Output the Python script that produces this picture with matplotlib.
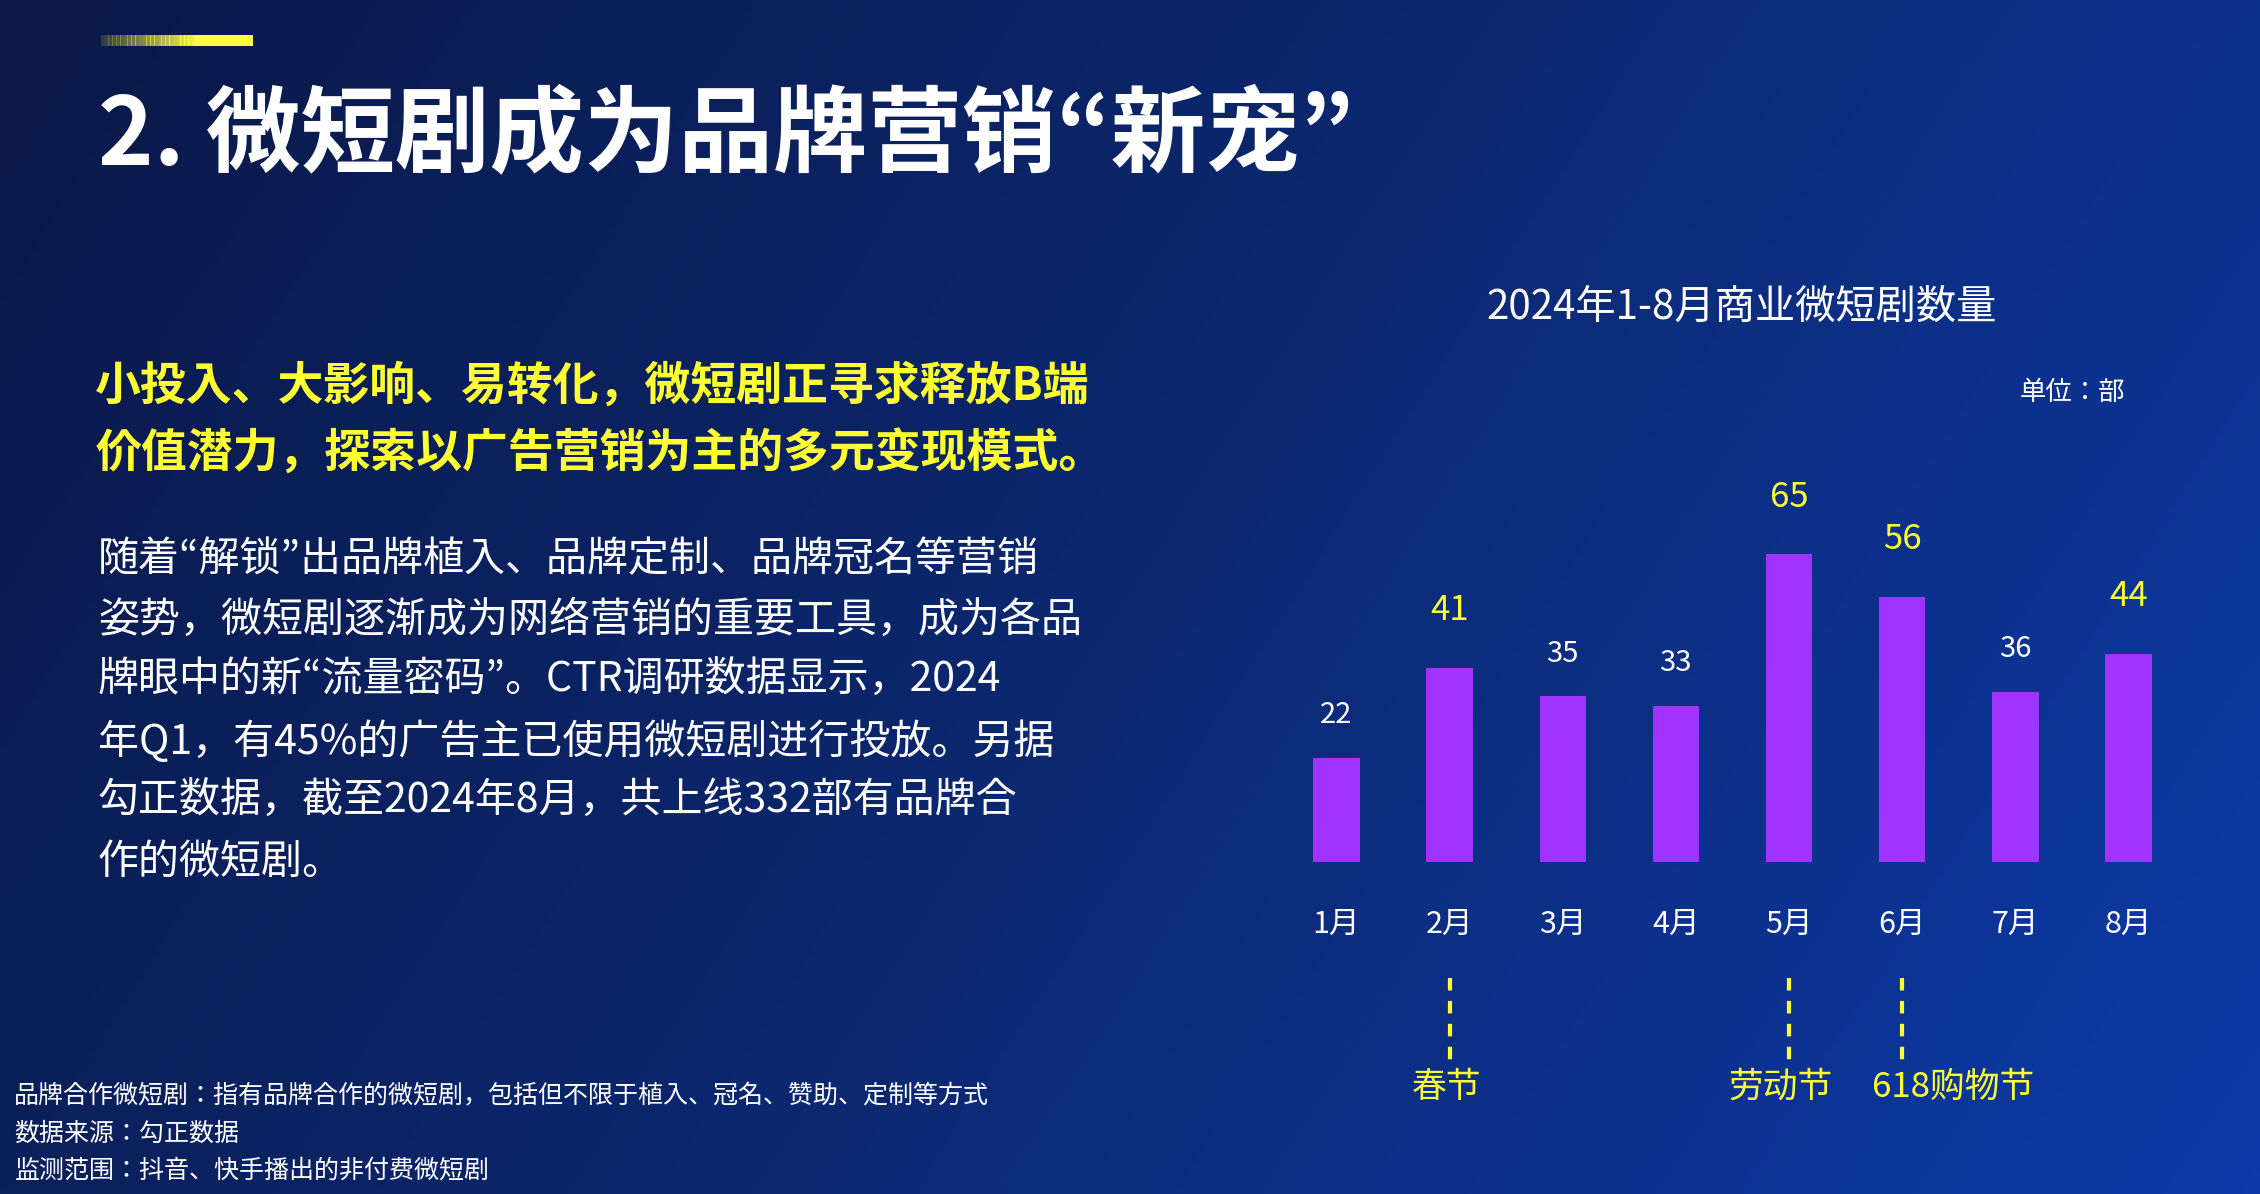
import matplotlib
matplotlib.use("Agg")
import matplotlib.pyplot as plt
import numpy as np
from matplotlib import font_manager
from matplotlib.colors import LinearSegmentedColormap

cjk = [f for f in font_manager.fontManager.ttflist if "CJK" in f.name]
names = sorted(set(f.name for f in cjk))
fam = next((n for n in names if "SC" in n), names[0] if names else "DejaVu Sans")
plt.rcParams["font.family"] = [fam, "DejaVu Sans"]

months = ["1月", "2月", "3月", "4月", "5月", "6月", "7月", "8月"]
counts = [22, 41, 35, 33, 65, 56, 36, 44]
highlight = [False, True, False, False, True, True, False, True]
events = {1: "春节", 4: "劳动节", 5: "618购物节"}
event_dx = {1: -0.03, 4: -0.08, 5: 0.45}

W, H = 1568, 828
fig = plt.figure(figsize=(22.6, 11.94), dpi=100)

# background gradient
bg = fig.add_axes([0, 0, 1, 1])
gx = np.linspace(0, 1, 300)
gy = np.linspace(0, 1, 200)
X, Y = np.meshgrid(gx, gy)
grad = 0.75 * X + 0.25 * (1 - Y)
cmap = LinearSegmentedColormap.from_list("bg", ["#0a1848", "#0c2870", "#0c3aa8"])
bg.imshow(grad, cmap=cmap, aspect="auto", extent=[0, 1, 0, 1], origin="lower")
bg.set_xlim(0, 1)
bg.set_ylim(0, 1)
bg.axis("off")

def fx(x):
    return x / W

def fy(y):
    return 1 - y / H

# yellow accent bar
for i in range(40):
    x0 = 70 + i * 105 / 40
    bg.add_patch(plt.Rectangle((fx(x0), fy(32)), fx(105 / 40 + 0.5), 8 / H,
                               color="#ffff40", alpha=min(1, 0.15 + i / 30), lw=0))

fig.text(fx(68), fy(95), "2. 微短剧成为品牌营销“新宠”", color="white",
         fontsize=68, fontweight="bold", va="center", ha="left")

yellow = ["小投入、大影响、易转化，微短剧正寻求释放B端",
          "价值潜力，探索以广告营销为主的多元变现模式。"]
for i, t in enumerate(yellow):
    fig.text(fx(66), fy(268 + 47 * i), t, color="#ffff33", fontsize=33,
             fontweight="bold", va="center")

para = ["随着“解锁”出品牌植入、品牌定制、品牌冠名等营销",
        "姿势，微短剧逐渐成为网络营销的重要工具，成为各品",
        "牌眼中的新“流量密码”。CTR调研数据显示，2024",
        "年Q1，有45%的广告主已使用微短剧进行投放。另据",
        "勾正数据，截至2024年8月，共上线332部有品牌合",
        "作的微短剧。"]
for i, t in enumerate(para):
    fig.text(fx(68), fy(388 + 42 * i), t, color="white", fontsize=29.5, va="center")

notes = ["品牌合作微短剧：指有品牌合作的微短剧，包括但不限于植入、冠名、赞助、定制等方式",
         "数据来源：勾正数据",
         "监测范围：抖音、快手播出的非付费微短剧"]
for i, t in enumerate(notes):
    fig.text(fx(10), fy(760 + 26 * i), t, color="white", fontsize=18, va="center")

fig.text(fx(1208), fy(213), "2024年1-8月商业微短剧数量", color="white",
         fontsize=29, ha="center", va="center")
fig.text(fx(1438), fy(272), "单位：部", color="white", fontsize=19,
         ha="center", va="center")

# bar chart
px_per_unit = 3.29
top = 340
ax = fig.add_axes([fx(888), fy(598), fx(1516 - 888), (598 - top) / H])
ax.set_facecolor("none")
xs = np.arange(len(months))
ax.bar(xs, counts, width=0.41, color="#a033ff")
ax.set_xlim(-0.5, 7.5)
ax.set_ylim(0, (598 - top) / px_per_unit)
ax.axis("off")

def dy(ypix):
    return (598 - ypix) / px_per_unit

for x, v, h in zip(xs, counts, highlight):
    if h:
        ax.text(x, v + 12, str(v), color="#ffff33", fontsize=25, ha="center",
                va="center", clip_on=False)
    else:
        ax.text(x, v + 9, str(v), color="white", fontsize=21, ha="center",
                va="center", clip_on=False)

for x, m in zip(xs, months):
    ax.text(x, dy(641), m, color="white", fontsize=22, ha="center", va="center",
            clip_on=False)

for k, name in events.items():
    ax.plot([k, k], [dy(678), dy(735)], color="#ffff33", lw=3,
            linestyle=(0, (3, 2.5)), clip_on=False)
    ax.text(k + event_dx[k], dy(754), name, color="#ffff33", fontsize=25,
            ha="center", va="center", clip_on=False)

fig.savefig("out.png", dpi=100)
